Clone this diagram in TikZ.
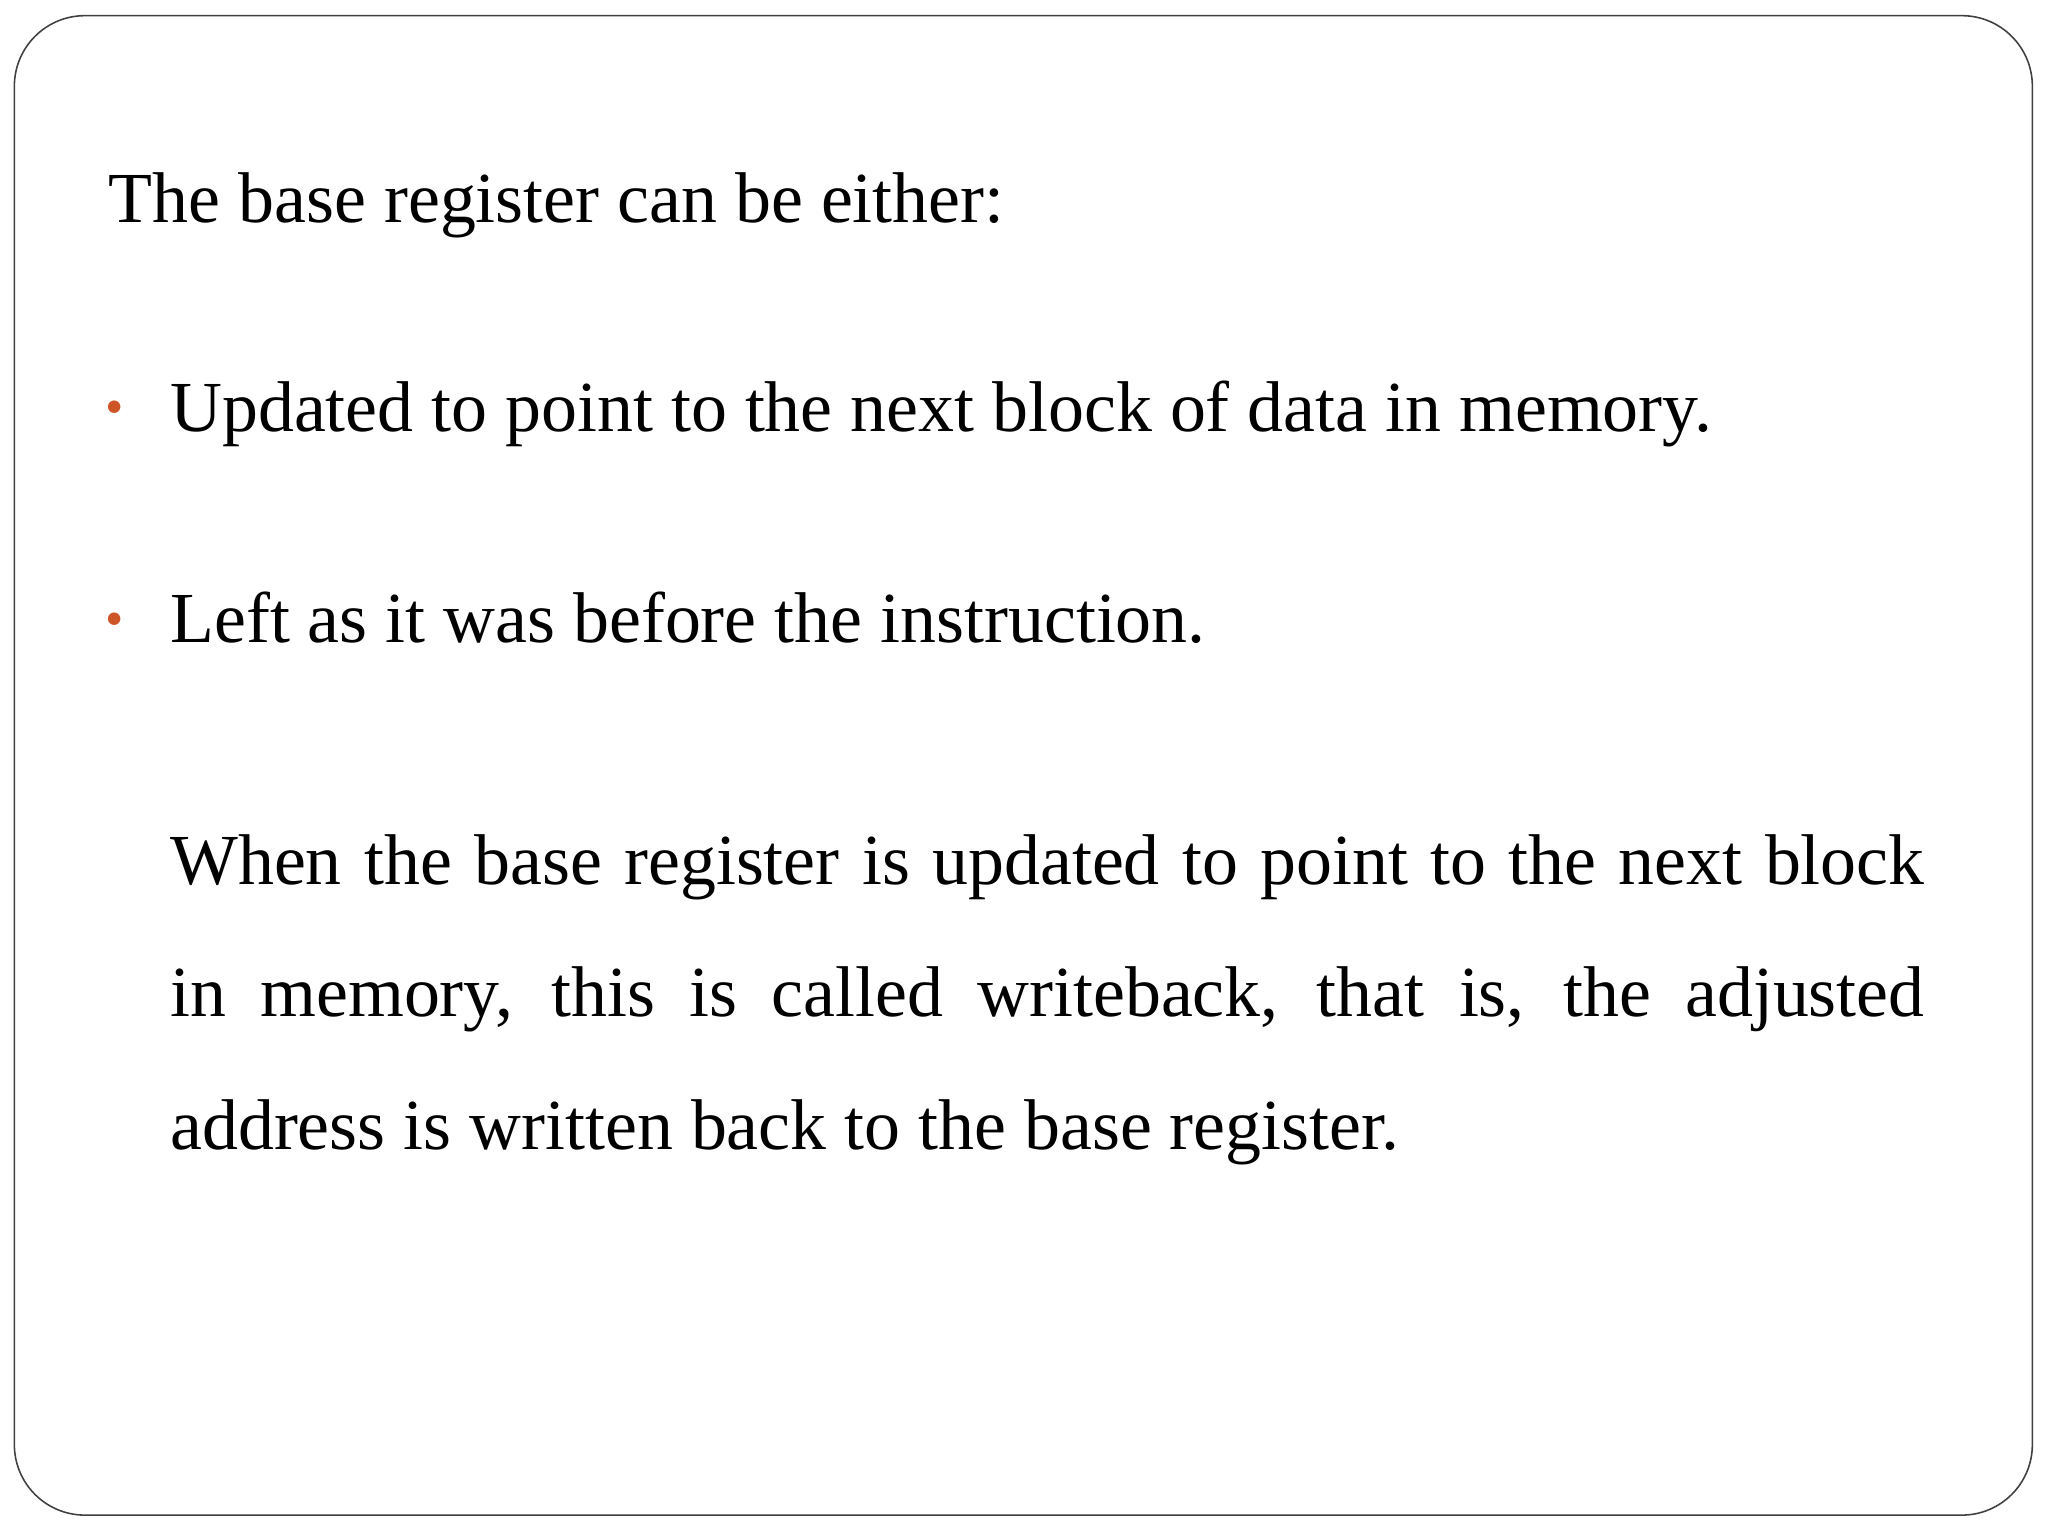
\documentclass[tikz,border=0pt]{standalone}
\usepackage{fontspec}
\setmainfont{Liberation Serif}
\definecolor{bul}{RGB}{205,85,40}
\begin{document}
\begin{tikzpicture}[x=0.5pt,y=-0.5pt,
  txt/.style={anchor=base west,inner sep=0pt,font=\fontsize{27.5pt}{33pt}\selectfont},
  bullet/.style={anchor=base west,inner sep=0pt,text=bul,font=\fontsize{20pt}{24pt}\selectfont}]
\useasboundingbox (0,0) rectangle (1568,1176);
\draw[draw=black!75,line width=0.6pt,rounded corners=27pt] (11,12) rectangle (1556,1160);
\node[txt] (h) at (83,170) {The base register can be either:};
\node[bullet] (b1) at (80,325) {\textbullet};
\node[txt] (t1) at (130,330) {Updated to point to the next block of data in memory.};
\node[bullet] (b2) at (80,487) {\textbullet};
\node[txt] (t2) at (130,492) {Left as it was before the instruction.};
\node[txt] (p1) at (130,677) {\makebox[671.5pt][s]{When the base register is updated to point to the next block}};
\node[txt] (p2) at (130,778) {\makebox[671.5pt][s]{in memory, this is called writeback, that is, the adjusted}};
\node[txt] (p3) at (130,880) {address is written back to the base register.};
\end{tikzpicture}
\end{document}
